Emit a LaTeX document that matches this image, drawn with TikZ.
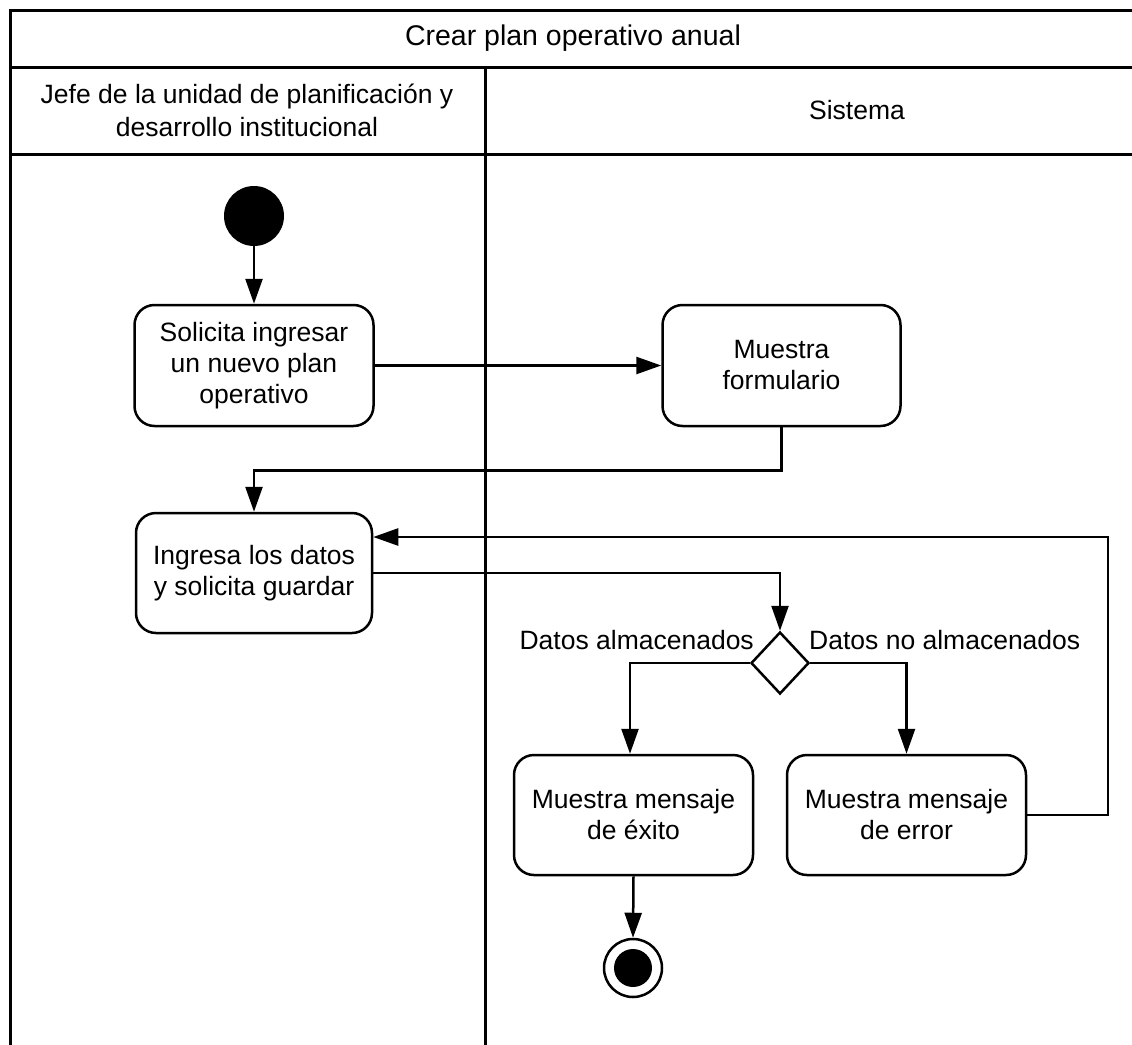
\documentclass[tikz,border=0pt]{standalone}
\usepackage{fontspec}
\setmainfont{Liberation Sans}
\usetikzlibrary{shapes.geometric,arrows.meta,calc}
\begin{document}
\begin{tikzpicture}[x=1pt,y=-1pt,
  frame/.style={line width=3pt},
  act/.style={draw, line width=2.5pt, rounded corners=20pt, align=center,
    font=\fontsize{26.5}{31}\selectfont, inner sep=0pt},
  lbl/.style={font=\fontsize{26.5}{31}\selectfont, inner sep=0pt},
  flow/.style={line width=2.5pt, -{Triangle[length=25pt,width=17pt]}},
  lane/.style={font=\fontsize{26.5}{33}\selectfont, align=center, inner sep=0pt}]
\useasboundingbox (0,0) rectangle (1132,1044);
% frame
\draw[frame] (10,1050) -- (10,10) -- (1133,10) -- (1133,1050);
\draw[frame] (10,67) -- (1133,67);
\draw[frame] (10,154) -- (1133,154);
\draw[frame] (485,67) -- (485,1050);
\node[lbl, font=\fontsize{28.5}{33}\selectfont] (title) at (573,38) {Crear plan operativo anual};
\node[lane] (lane1) at (247,110) {Jefe de la unidad de planificación y\\desarrollo institucional};
\node[lane] (lane2) at (857,110) {Sistema};
% nodes
\node[circle, fill=black, inner sep=0pt, minimum size=60pt] (start) at (254,216) {};
\node[act, minimum width=239pt, minimum height=121pt] (sol) at (254,365.5) {Solicita ingresar\\un nuevo plan\\operativo};
\node[act, minimum width=238pt, minimum height=121pt] (form) at (781.5,365.5) {Muestra\\formulario};
\node[act, minimum width=236pt, minimum height=120pt] (ing) at (254,573) {Ingresa los datos\\y solicita guardar};
\node[diamond, draw, line width=2.5pt, inner sep=0pt, minimum width=58pt, minimum height=62pt] (dec) at (780,663) {};
\node[act, minimum width=239pt, minimum height=120pt] (exito) at (633.5,815) {Muestra mensaje\\de éxito};
\node[act, minimum width=239pt, minimum height=120pt] (error) at (906.5,815) {Muestra mensaje\\de error};
\node[circle, draw, line width=2.5pt, inner sep=0pt, minimum size=58pt] (end) at (633,968) {};
\node[circle, fill=black, inner sep=0pt, minimum size=38pt] (endin) at (633,968) {};
% labels
\node[lbl, anchor=east] (l1) at (754,640) {Datos almacenados};
\node[lbl, anchor=west] (l2) at (809,640) {Datos no almacenados};
% connectors
\coordinate (loopc) at (1108,537);
\draw[flow] (start) -- (sol);
\draw[flow] (sol) -- (form);
\draw[flow] (form.south) -- ++(0,43) -| (ing.north);
\draw[flow] (ing.east) -| (dec.north);
\draw[flow] (dec.west) -| (exito.north -| 630,0);
\draw[flow] (dec.east) -| (error.north);
\draw[flow] (exito.south) -- (end.north);
\draw[flow] (error.east) -| (loopc) -- (ing.east |- loopc);
\end{tikzpicture}
\end{document}
